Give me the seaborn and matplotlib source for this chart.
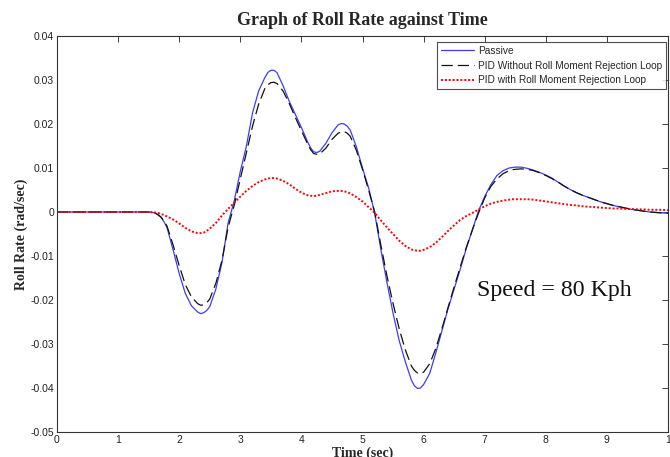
import numpy as np
import pandas as pd
import matplotlib
matplotlib.use("Agg")
import matplotlib.pyplot as plt
import seaborn as sns

# ---------------- data ----------------
time_s = [round(0.1 * i, 1) for i in range(101)]

passive = [
    0, 0, 0, 0, 0, 0, 0, 0, 0, 0,                      # 0.0-0.9
    0, 0, 0, 0, 0, 0, -0.0002, -0.0012, -0.0035, -0.0086,  # 1.0-1.9
    -0.0140, -0.0185, -0.0213, -0.0227, -0.0229, -0.0215, -0.0175, -0.0115, -0.0025, 0.0025,  # 2.0-2.9
    0.0092, 0.0150, 0.0225, 0.0275, 0.0305, 0.0322, 0.0317, 0.0287, 0.0252, 0.0222,  # 3.0-3.9
    0.0192, 0.0160, 0.0137, 0.0138, 0.0156, 0.0180, 0.0198, 0.0200, 0.0186, 0.0148,  # 4.0-4.9
    0.0100, 0.0055, -0.0003, -0.0085, -0.0160, -0.0230, -0.0292, -0.0340, -0.0382, -0.0401,  # 5.0-5.9
    -0.0392, -0.0367, -0.0320, -0.0270, -0.0220, -0.0175, -0.0130, -0.0082, -0.0040, 0.0003,  # 6.0-6.9
    0.0035, 0.0062, 0.0083, 0.0094, 0.0100, 0.0102, 0.0102, 0.0099, 0.0095, 0.0090,  # 7.0-7.9
    0.0084, 0.0077, 0.0068, 0.0059, 0.0051, 0.0044, 0.0038, 0.0033, 0.0028, 0.0023,  # 8.0-8.9
    0.0019, 0.0015, 0.0012, 0.0009, 0.0006, 0.0004, 0.0002, 0.0000, -0.0001, -0.0002,  # 9.0-9.9
    -0.0003,
]

pid_without = [
    0, 0, 0, 0, 0, 0, 0, 0, 0, 0,
    0, 0, 0, 0, 0, 0, -0.0002, -0.0011, -0.0032, -0.0075,
    -0.0122, -0.0165, -0.0193, -0.0208, -0.0211, -0.0198, -0.0162, -0.0110, -0.0035, 0.0015,
    0.0075, 0.0135, 0.0195, 0.0245, 0.0280, 0.0294, 0.0292, 0.0275, 0.0247, 0.0215,
    0.0185, 0.0155, 0.0133, 0.0132, 0.0145, 0.0165, 0.0179, 0.0183, 0.0172, 0.0140,
    0.0097, 0.0050, 0.0000, -0.0075, -0.0145, -0.0208, -0.0265, -0.0313, -0.0350, -0.0366,
    -0.0364, -0.0345, -0.0310, -0.0265, -0.0217, -0.0170, -0.0125, -0.0080, -0.0040, -0.0002,
    0.0032, 0.0058, 0.0075, 0.0087, 0.0094, 0.0097, 0.0098, 0.0097, 0.0094, 0.0089,
    0.0083, 0.0076, 0.0068, 0.0059, 0.0051, 0.0044, 0.0038, 0.0033, 0.0028, 0.0023,
    0.0019, 0.0015, 0.0012, 0.0009, 0.0006, 0.0004, 0.0002, 0.0000, -0.0001, -0.0002,
    -0.0003,
]

pid_with = [
    0, 0, 0, 0, 0, 0, 0, 0, 0, 0,
    0, 0, 0, 0, 0, 0, -0.0001, -0.0004, -0.0010, -0.0017,
    -0.0026, -0.0036, -0.0044, -0.0048, -0.0047, -0.0038, -0.0025, -0.0008, 0.0007, 0.0021,
    0.0035, 0.0048, 0.0059, 0.0068, 0.0074, 0.0077, 0.0076, 0.0071, 0.0063, 0.0053,
    0.0044, 0.0038, 0.0036, 0.0039, 0.0043, 0.0047, 0.0048, 0.0047, 0.0042, 0.0034,
    0.0024, 0.0011, -0.0002, -0.0019, -0.0035, -0.0050, -0.0065, -0.0077, -0.0085, -0.0088,
    -0.0086, -0.0080, -0.0070, -0.0057, -0.0043, -0.0030, -0.0018, -0.0009, -0.0002, 0.0006,
    0.0013, 0.0019, 0.0023, 0.0026, 0.0028, 0.0029, 0.0029, 0.0029, 0.0028, 0.0026,
    0.0024, 0.0022, 0.0020, 0.0018, 0.0016, 0.0015, 0.0013, 0.0012, 0.0011, 0.0010,
    0.0009, 0.0008, 0.0008, 0.0007, 0.0007, 0.0006, 0.0006, 0.0005, 0.0005, 0.0005,
    0.0004,
]

# extra readings taken near the turning points of the curves
extra_time = [1.65, 1.75, 2.35, 2.45, 3.45, 3.55, 4.15, 4.25, 4.65, 4.75, 5.85, 5.95, 7.45]
extra_passive = [-0.0006, -0.0022, -0.0231, -0.0224, 0.0317, 0.0322, 0.0146, 0.0135,
                 0.0201, 0.0195, -0.0395, -0.0400, 0.0101]
extra_pid_without = [-0.0006, -0.0020, -0.0212, -0.0206, 0.0289, 0.0295, 0.0142, 0.0131,
                     0.0182, 0.0179, -0.0360, -0.0367, 0.0096]
extra_pid_with = [-0.0002, -0.0007, -0.0048, -0.0043, 0.0076, 0.0077, 0.0037, 0.0037,
                  0.0048, 0.0045, -0.0087, -0.0088, 0.0029]

series_names = ["Passive",
                "PID Without Roll Moment Rejection Loop",
                "PID with Roll Moment Rejection Loop"]

x_ticks = [0, 1, 2, 3, 4, 5, 6, 7, 8, 9, 10]
x_tick_labels = ["0", "1", "2", "3", "4", "5", "6", "7", "8", "9", "1"]
y_ticks = [0.04, 0.03, 0.02, 0.01, 0.0, -0.01, -0.02, -0.03, -0.04, -0.05]
y_tick_labels = ["0.04", "0.03", "0.02", "0.01", "0", "-0.01", "-0.02", "-0.03", "-0.04", "-0.05"]

title_text = "Graph of Roll Rate against Time"
x_label = "Time (sec)"
y_label = "Roll Rate (rad/sec)"
annotation = "Speed = 80 Kph"

# ---------------- tidy table ----------------
all_time = time_s + extra_time
frames = []
for name, base, extra in zip(series_names,
                             [passive, pid_without, pid_with],
                             [extra_passive, extra_pid_without, extra_pid_with]):
    frames.append(pd.DataFrame({"time": all_time, "value": base + extra, "series": name}))
df = pd.concat(frames).sort_values(["series", "time"])

# ---------------- plot ----------------
sns.set_style("white")
plt.rcParams["font.family"] = ["Liberation Sans", "DejaVu Sans"]

fig = plt.figure(figsize=(6.7, 4.57), dpi=100)
ax = fig.add_axes([57 / 670, 25 / 457, 611 / 670, 396 / 457])

styles = [
    dict(color="#3c3cff", linewidth=0.9, linestyle="-"),
    dict(color="#111111", linewidth=0.9, linestyle=(0, (9, 4))),
    dict(color="#ff0000", linewidth=1.4, linestyle=(0, (1, 1))),
]
for name, st in zip(series_names, styles):
    sub = df[df["series"] == name]
    sns.lineplot(data=sub, x="time", y="value", ax=ax, label=name, **st)

ax.set_xlim(0, 10)
ax.set_ylim(-0.05, 0.04)
ax.set_xticks(x_ticks)
ax.set_xticklabels(x_tick_labels)
ax.set_yticks(y_ticks)
ax.set_yticklabels(y_tick_labels)
ax.tick_params(direction="in", top=True, right=True, length=4, width=0.6,
               labelsize=7.5, colors="#222222", pad=2)
for sp in ax.spines.values():
    sp.set_color("#333333")
    sp.set_linewidth(0.8)

ax.set_title(title_text, family=["Liberation Serif", "DejaVu Serif"],
             fontweight="bold", fontsize=13, pad=8)
ax.set_xlabel(x_label, family=["Liberation Serif", "DejaVu Serif"],
              fontweight="bold", fontsize=10, labelpad=1)
ax.set_ylabel(y_label, family=["Liberation Serif", "DejaVu Serif"],
              fontweight="bold", fontsize=10, labelpad=2)

ax.text(6.87, -0.0178, annotation, family=["Liberation Serif", "DejaVu Serif"],
        fontsize=17.2, va="center", ha="left", color="#111111")

leg = ax.legend(loc="upper right", bbox_to_anchor=(0.997, 0.985), borderaxespad=0,
                fontsize=7.3, frameon=True, fancybox=False, handlelength=3.2,
                handletextpad=0.4, borderpad=0.4, labelspacing=0.45)
leg.get_frame().set_edgecolor("#222222")
leg.get_frame().set_linewidth(0.8)

fig.savefig("out.png", dpi=100)
